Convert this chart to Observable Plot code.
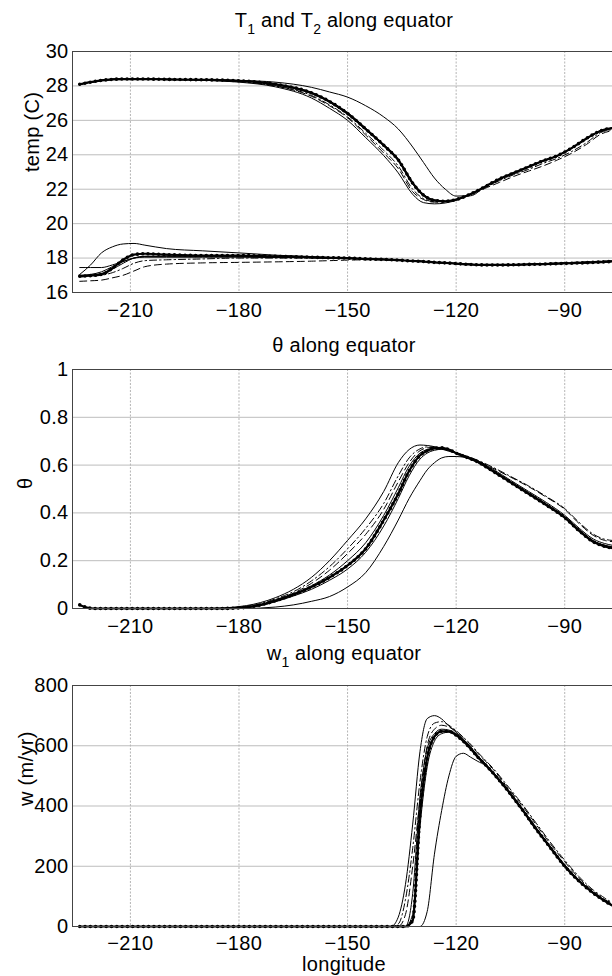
<!DOCTYPE html>
<html><head><meta charset="utf-8">
<script src="https://cdn.jsdelivr.net/npm/d3@7"></script>
<script src="https://cdn.jsdelivr.net/npm/@observablehq/plot@0.6"></script>
<style>
body{margin:0;background:#fff;}
#root{position:relative;width:612px;height:976px;overflow:hidden;background:#fff;font-family:"Liberation Sans",Arial,sans-serif;color:#000;}
.title{position:absolute;left:72px;width:544px;text-align:center;font-size:20px;line-height:20px;letter-spacing:0.3px;white-space:nowrap;}
.title sub{font-size:14px;vertical-align:-7px;line-height:0;letter-spacing:0;}
.panel{position:absolute;left:0;width:612px;}
</style></head>
<body><div id="root">
<div class="title" style="top:10px">T<sub>1</sub> and T<sub>2</sub> along equator</div>
<div class="title" style="top:335px">θ along equator</div>
<div class="title" style="top:643px">w<sub>1</sub> along equator</div>
<div class="title" style="top:956px;line-height:16px">longitude</div>
</div>
<script>
// ---------- shared axis values ----------
const xTicks = [-210, -180, -150, -120, -90];
const tempTicks = [16, 18, 20, 22, 24, 26, 28, 30];
const thetaTicks = [0, 0.2, 0.4, 0.6, 0.8, 1];
const wTicks = [0, 200, 400, 600, 800];

// ---------- panel 1: T1 (upper) and T2 (lower) ----------
const lon1 = [-224, -221, -218, -215, -212, -209, -206, -200, -190, -180, -170, -160, -155, -150, -145, -140, -136, -132, -129, -126, -123, -120, -116, -112, -108, -104, -100, -96, -92, -88, -84, -80, -77];
const T1_thick = [28.1, 28.22, 28.32, 28.38, 28.4, 28.4, 28.4, 28.38, 28.36, 28.3, 28.1, 27.6, 27.1, 26.4, 25.5, 24.55, 23.7, 22.35, 21.65, 21.35, 21.3, 21.4, 21.72, 22.15, 22.6, 22.95, 23.3, 23.65, 23.95, 24.4, 24.95, 25.4, 25.55];
const T1_early = [28.1, 28.22, 28.32, 28.38, 28.4, 28.4, 28.4, 28.37, 28.33, 28.22, 27.95, 27.3, 26.7, 26.0, 25.0, 23.95, 22.95, 21.7, 21.22, 21.15, 21.2, 21.35, 21.7, 22.13, 22.58, 22.93, 23.28, 23.62, 23.93, 24.38, 24.92, 25.37, 25.52];
const T1_dashdot = [28.1, 28.22, 28.32, 28.38, 28.4, 28.4, 28.4, 28.37, 28.34, 28.25, 28.0, 27.45, 26.9, 26.2, 25.25, 24.25, 23.35, 22.0, 21.45, 21.28, 21.28, 21.38, 21.7, 22.1, 22.5, 22.85, 23.15, 23.5, 23.8, 24.2, 24.7, 25.3, 25.45];
const T1_dashed = [28.1, 28.22, 28.32, 28.38, 28.4, 28.4, 28.4, 28.37, 28.34, 28.27, 28.0, 27.4, 26.85, 26.15, 25.15, 24.1, 23.2, 21.85, 21.4, 21.25, 21.27, 21.38, 21.68, 22.05, 22.4, 22.75, 23.05, 23.35, 23.7, 24.1, 24.6, 25.2, 25.4];
const T1_thinA = [28.1, 28.22, 28.32, 28.38, 28.4, 28.4, 28.4, 28.38, 28.36, 28.3, 28.12, 27.62, 27.12, 26.45, 25.55, 24.6, 23.75, 22.4, 21.7, 21.38, 21.3, 21.4, 21.72, 22.15, 22.6, 22.95, 23.3, 23.65, 23.95, 24.4, 24.95, 25.4, 25.55];
const T1_thinB = [28.1, 28.22, 28.32, 28.38, 28.4, 28.4, 28.4, 28.38, 28.36, 28.3, 28.08, 27.55, 27.05, 26.35, 25.45, 24.5, 23.65, 22.3, 21.6, 21.33, 21.3, 21.4, 21.72, 22.15, 22.6, 22.95, 23.3, 23.65, 23.95, 24.4, 24.95, 25.4, 25.55];
const T1_late = [28.1, 28.22, 28.32, 28.38, 28.4, 28.4, 28.4, 28.38, 28.36, 28.32, 28.22, 27.92, 27.65, 27.35, 26.85, 26.2, 25.5, 24.45, 23.55, 22.65, 22.0, 21.6, 21.62, 22.15, 22.6, 22.95, 23.3, 23.65, 23.95, 24.4, 24.95, 25.4, 25.55];

const T2_thick = [16.95, 16.98, 17.05, 17.4, 17.9, 18.2, 18.25, 18.2, 18.15, 18.15, 18.1, 18.05, 18.02, 18.0, 17.95, 17.92, 17.88, 17.83, 17.8, 17.75, 17.72, 17.68, 17.63, 17.6, 17.6, 17.61, 17.63, 17.65, 17.68, 17.7, 17.73, 17.77, 17.8];
const T2_early = [17.45, 17.45, 17.45, 17.6, 17.8, 18.0, 18.05, 18.05, 18.05, 18.05, 18.03, 18.02, 18.0, 17.98, 17.94, 17.91, 17.88, 17.83, 17.8, 17.75, 17.72, 17.68, 17.63, 17.6, 17.6, 17.61, 17.63, 17.65, 17.68, 17.7, 17.73, 17.77, 17.8];
const T2_dashdot = [16.9, 16.95, 17.0, 17.15, 17.4, 17.7, 17.85, 17.9, 17.95, 18.0, 18.0, 18.0, 17.99, 17.98, 17.94, 17.9, 17.87, 17.83, 17.8, 17.75, 17.72, 17.68, 17.63, 17.6, 17.6, 17.62, 17.64, 17.67, 17.7, 17.73, 17.76, 17.8, 17.83];
const T2_dashed = [16.65, 16.68, 16.72, 16.85, 17.0, 17.25, 17.5, 17.65, 17.72, 17.75, 17.78, 17.82, 17.85, 17.88, 17.9, 17.9, 17.87, 17.83, 17.8, 17.75, 17.72, 17.68, 17.63, 17.6, 17.6, 17.62, 17.65, 17.68, 17.72, 17.75, 17.78, 17.82, 17.85];
const T2_thinA = [17.0, 17.05, 17.2, 17.5, 17.8, 18.0, 18.1, 18.1, 18.1, 18.1, 18.08, 18.04, 18.01, 18.0, 17.95, 17.92, 17.88, 17.83, 17.8, 17.75, 17.72, 17.68, 17.63, 17.6, 17.6, 17.61, 17.63, 17.65, 17.68, 17.7, 17.73, 17.77, 17.8];
const T2_thinB = [16.95, 17.0, 17.1, 17.35, 17.7, 18.0, 18.1, 18.12, 18.12, 18.12, 18.08, 18.04, 18.01, 18.0, 17.95, 17.92, 17.88, 17.83, 17.8, 17.75, 17.72, 17.68, 17.63, 17.6, 17.6, 17.61, 17.63, 17.65, 17.68, 17.7, 17.73, 17.77, 17.8];
const T2_late = [17.05, 17.6, 18.3, 18.65, 18.82, 18.85, 18.75, 18.55, 18.42, 18.3, 18.17, 18.08, 18.04, 18.01, 17.96, 17.92, 17.88, 17.83, 17.8, 17.75, 17.72, 17.68, 17.63, 17.6, 17.6, 17.61, 17.63, 17.65, 17.68, 17.7, 17.73, 17.77, 17.8];

// ---------- panel 2: theta ----------
const lon2 = [-224, -222, -220, -200, -190, -186, -182, -178, -174, -170, -165, -160, -155, -150, -145, -140, -136, -133, -130, -128, -126, -124, -122, -120, -117, -114, -110, -105, -100, -95, -90, -86, -82, -79, -77];
const th_thick = [0.015, 0.004, 0, 0, 0, 0, 0.001, 0.005, 0.015, 0.032, 0.058, 0.09, 0.13, 0.18, 0.25, 0.37, 0.48, 0.575, 0.64, 0.66, 0.67, 0.672, 0.665, 0.65, 0.632, 0.613, 0.576, 0.528, 0.48, 0.432, 0.38, 0.325, 0.278, 0.26, 0.253];
const th_early = [0, 0, 0, 0, 0, 0.001, 0.005, 0.012, 0.025, 0.045, 0.08, 0.13, 0.2, 0.285, 0.375, 0.49, 0.61, 0.665, 0.684, 0.682, 0.677, 0.667, 0.658, 0.65, 0.633, 0.615, 0.578, 0.53, 0.483, 0.435, 0.383, 0.328, 0.282, 0.264, 0.258];
const th_dashdot = [0, 0, 0, 0, 0, 0, 0.003, 0.009, 0.02, 0.04, 0.07, 0.115, 0.175, 0.25, 0.335, 0.44, 0.555, 0.63, 0.668, 0.676, 0.676, 0.67, 0.662, 0.652, 0.637, 0.62, 0.592, 0.553, 0.513, 0.468, 0.418, 0.36, 0.31, 0.29, 0.285];
const th_dashed = [0, 0, 0, 0, 0, 0, 0.002, 0.008, 0.018, 0.036, 0.064, 0.105, 0.16, 0.23, 0.31, 0.415, 0.53, 0.61, 0.66, 0.672, 0.674, 0.67, 0.662, 0.652, 0.636, 0.618, 0.588, 0.55, 0.51, 0.465, 0.415, 0.355, 0.305, 0.285, 0.28];
const th_thinA = [0, 0, 0, 0, 0, 0, 0.002, 0.006, 0.016, 0.034, 0.06, 0.095, 0.14, 0.2, 0.275, 0.39, 0.505, 0.595, 0.65, 0.665, 0.671, 0.672, 0.665, 0.652, 0.636, 0.618, 0.584, 0.537, 0.49, 0.443, 0.39, 0.336, 0.29, 0.272, 0.265];
const th_thinB = [0, 0, 0, 0, 0, 0, 0.001, 0.004, 0.012, 0.028, 0.052, 0.08, 0.118, 0.165, 0.235, 0.345, 0.46, 0.555, 0.625, 0.65, 0.662, 0.666, 0.662, 0.65, 0.633, 0.615, 0.58, 0.532, 0.485, 0.437, 0.384, 0.33, 0.283, 0.265, 0.258];
const th_late = [0, 0, 0, 0, 0, 0, 0, 0, 0.002, 0.006, 0.015, 0.03, 0.05, 0.09, 0.15, 0.26, 0.37, 0.46, 0.535, 0.58, 0.61, 0.63, 0.636, 0.636, 0.63, 0.61, 0.576, 0.528, 0.48, 0.432, 0.38, 0.325, 0.278, 0.26, 0.253];

// ---------- panel 3: w1 ----------
const lon3 = [-224, -140, -138, -136, -134, -132, -130, -128, -126, -124, -122, -120, -118, -116, -114, -112, -110, -106, -102, -98, -94, -90, -86, -82, -79, -77];
const w_thick = [0, 0, 0, 0, 0, 20, 370, 560, 630, 648, 648, 635, 615, 590, 562, 538, 512, 455, 392, 325, 262, 200, 150, 110, 85, 70];
const w_early = [0, 0, 0, 31, 140, 340, 580, 690, 700, 689, 665, 645, 620, 597, 566, 540, 514, 457, 394, 327, 264, 202, 152, 112, 87, 72];
const w_dashdot = [0, 0, 0, 8, 90, 260, 480, 630, 675, 680, 668, 650, 628, 605, 578, 553, 528, 470, 410, 345, 280, 220, 165, 120, 95, 80];
const w_dashed = [0, 0, 0, 0, 40, 200, 420, 600, 655, 668, 662, 648, 626, 602, 575, 550, 525, 465, 405, 340, 275, 215, 160, 116, 90, 78];
const w_thinA = [0, 0, 0, 0, 0, 110, 430, 590, 640, 655, 652, 640, 620, 595, 567, 542, 516, 460, 397, 330, 267, 205, 154, 113, 88, 73];
const w_thinB = [0, 0, 0, 0, 0, 40, 330, 530, 615, 640, 645, 636, 616, 591, 563, 539, 513, 456, 393, 326, 263, 201, 151, 111, 86, 71];
const w_late = [0, 0, 0, 0, 0, 0, 0, 50, 240, 385, 500, 565, 575, 562, 548, 535, 510, 455, 392, 325, 262, 200, 150, 110, 85, 70];

// ---------- styles ----------
const lineStyle = {
  thin: {strokeWidth: 1},
  dashed: {strokeWidth: 1, strokeDasharray: "7,4"},
  dashdot: {strokeWidth: 1, strokeDasharray: "7,3,1.5,3"},
  thick: {strokeWidth: 2.2}
};

const rows = (lon, vals) => lon.map((x, i) => ({x, y: vals[i]}));

function lineMarks(lon, list) {
  const marks = [];
  for (const [vals, kind] of list) {
    const data = rows(lon, vals);
    marks.push(Plot.line(data, {x: "x", y: "y", stroke: "#000", curve: "monotone-x", ...lineStyle[kind]}));
    if (kind === "thick") {
      marks.push(Plot.line(data, {x: "x", y: "y", stroke: "#000", curve: "monotone-x",
        strokeWidth: 3.6, strokeDasharray: "0,5.3", strokeLinecap: "round"}));
    }
  }
  return marks;
}

const xDomain = [-226, -76.8];
const fmtMinus = d3.format("d");

function panel({top, height, plotH, tickPad, yDomain, yTicks, yFmt, label, labelDx, lines}) {
  const mb = height - 10 - plotH;
  const chart = Plot.plot({
    width: 612, height, marginTop: 10, marginBottom: mb, marginLeft: 72, marginRight: 0,
    style: {fontFamily: "'Liberation Sans', Arial, sans-serif", fontSize: "20px", letterSpacing: "0.3px", background: "transparent", color: "#000", overflow: "visible"},
    x: {domain: xDomain, ticks: xTicks, tickSize: 0, tickPadding: tickPad, tickFormat: fmtMinus, label: null},
    y: {domain: yDomain, ticks: yTicks, tickSize: 0, tickPadding: 4, tickFormat: yFmt, label: null},
    marks: [
      Plot.ruleY(yTicks, {stroke: "#bdbdbd", strokeWidth: 1}),
      Plot.ruleX(xTicks, {stroke: "#b5b5b5", strokeWidth: 1, strokeDasharray: "2,1.5"}),
      ...lines,
      Plot.ruleY([yDomain[0], yDomain[1]], {stroke: "#444", strokeWidth: 1}),
      Plot.ruleX([xDomain[0]], {stroke: "#444", strokeWidth: 1}),
      Plot.text([label], {text: d => d, frameAnchor: "left", dx: labelDx, rotate: -90, fontSize: 20})
    ]
  });
  const div = document.createElement("div");
  div.className = "panel";
  div.style.top = top + "px";
  div.appendChild(chart);
  document.getElementById("root").appendChild(div);
}

panel({
  top: 41, height: 283, plotH: 241, tickPad: 10,
  yDomain: [16, 30], yTicks: tempTicks, yFmt: d => String(d),
  label: "temp (C)", labelDx: -40,
  lines: lineMarks(lon1, [
    [T1_early, "thin"], [T1_late, "thin"], [T1_thinA, "thin"], [T1_thinB, "thin"],
    [T1_dashed, "dashed"], [T1_dashdot, "dashdot"], [T1_thick, "thick"],
    [T2_early, "thin"], [T2_late, "thin"], [T2_thinA, "thin"], [T2_thinB, "thin"],
    [T2_dashed, "dashed"], [T2_dashdot, "dashdot"], [T2_thick, "thick"]
  ])
});

panel({
  top: 359, height: 281, plotH: 239, tickPad: 10,
  yDomain: [0, 1], yTicks: thetaTicks, yFmt: d => String(d),
  label: "θ", labelDx: -47,
  lines: lineMarks(lon2, [
    [th_early, "thin"], [th_late, "thin"], [th_thinA, "thin"], [th_thinB, "thin"],
    [th_dashed, "dashed"], [th_dashdot, "dashdot"], [th_thick, "thick"]
  ])
});

panel({
  top: 675, height: 281, plotH: 241, tickPad: 9,
  yDomain: [0, 800], yTicks: wTicks, yFmt: d => String(d),
  label: "w (m/yr)", labelDx: -46,
  lines: lineMarks(lon3, [
    [w_early, "thin"], [w_late, "thin"], [w_thinA, "thin"], [w_thinB, "thin"],
    [w_dashed, "dashed"], [w_dashdot, "dashdot"], [w_thick, "thick"]
  ])
});
</script>
</body></html>
